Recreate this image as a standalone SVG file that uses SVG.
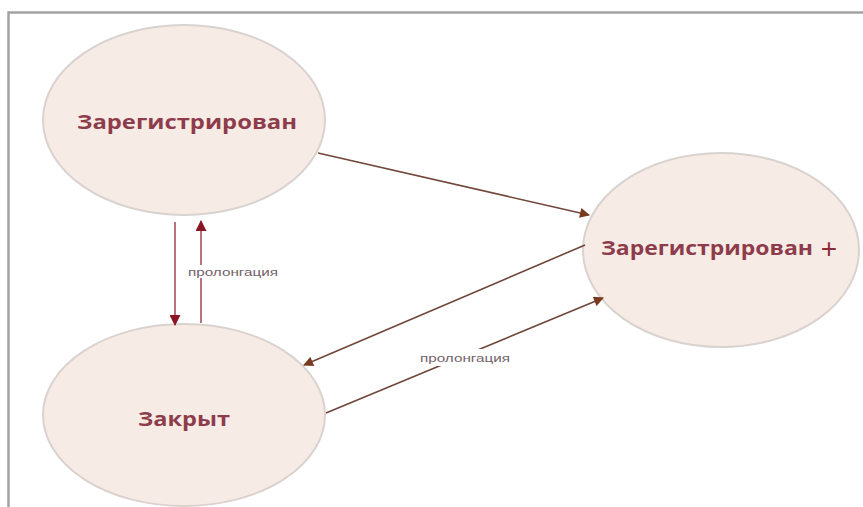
<svg xmlns="http://www.w3.org/2000/svg" width="863" height="507" viewBox="0 0 863 507">
  <style>
    .node ellipse { fill: #f7ece5; stroke: #d9d2cf; stroke-width: 2; }
    .node text { font-family: "Open Sans", "Liberation Sans", sans-serif; font-weight: bold; font-size: 20px; fill: #8e3c4c; text-anchor: middle; }
    .node text.plus { font-family: "Liberation Sans", sans-serif; font-weight: normal; font-size: 28px; fill: #8a2c3c; }
    .edge { fill: none; stroke-width: 1.6; }
    .brown { stroke: #70473a; }
    .red { stroke: #a8505c; }
    .lbl-bg { fill: #ffffff; }
    .lbl { font-family: "Liberation Sans", "Open Sans", sans-serif; font-size: 11px; fill: #72626a; text-anchor: middle; }
  </style>
  <defs>
    <marker id="ahBrown" viewBox="0 0 10 10" refX="9" refY="5" markerWidth="12" markerHeight="10" markerUnits="userSpaceOnUse" orient="auto">
      <path d="M0,0 L10,5 L0,10 z" fill="#7a3a1e"/>
    </marker>
    <marker id="ahRed" viewBox="0 0 10 10" refX="9" refY="5" markerWidth="12" markerHeight="11" markerUnits="userSpaceOnUse" orient="auto">
      <path d="M0,0 L10,5 L0,10 z" fill="#8a1525"/>
    </marker>
  </defs>

  <rect x="0" y="0" width="863" height="507" fill="#ffffff"/>
  <!-- frame -->
  <path d="M8.5,507 L8.5,12.5 L863,12.5" fill="none" stroke="#a3a3a3" stroke-width="2.5"/>

  <g id="n-registered" class="node">
    <ellipse cx="184" cy="120" rx="141" ry="95"/>
    <text x="187" y="129" textLength="220" lengthAdjust="spacingAndGlyphs">Зарегистрирован</text>
  </g>
  <g id="n-registered-plus" class="node">
    <ellipse cx="721" cy="250" rx="138" ry="97"/>
    <text x="707" y="255" textLength="212" lengthAdjust="spacingAndGlyphs">Зарегистрирован</text>
    <text class="plus" x="829" y="258">+</text>
  </g>
  <g id="n-closed" class="node">
    <ellipse cx="184" cy="415" rx="141" ry="91"/>
    <text x="184" y="426" textLength="92" lengthAdjust="spacingAndGlyphs">Закрыт</text>
  </g>

  <g id="connectors">
    <line class="edge brown" x1="318" y1="153" x2="589" y2="215" marker-end="url(#ahBrown)"/>
    <line class="edge brown" x1="585" y1="245" x2="304" y2="365" marker-end="url(#ahBrown)"/>
    <line class="edge brown" x1="326" y1="413" x2="603" y2="298" marker-end="url(#ahBrown)"/>
    <line class="edge red" x1="175" y1="222" x2="175" y2="325" marker-end="url(#ahRed)"/>
    <line class="edge red" x1="201" y1="323" x2="201" y2="221" marker-end="url(#ahRed)"/>
    <rect class="lbl-bg" x="186" y="265" width="94" height="13"/>
    <text class="lbl" x="233" y="276" textLength="90" lengthAdjust="spacingAndGlyphs">пролонгация</text>
    <rect class="lbl-bg" x="418" y="349" width="94" height="17"/>
    <text class="lbl" x="465" y="362" textLength="90" lengthAdjust="spacingAndGlyphs">пролонгация</text>
  </g>
</svg>
